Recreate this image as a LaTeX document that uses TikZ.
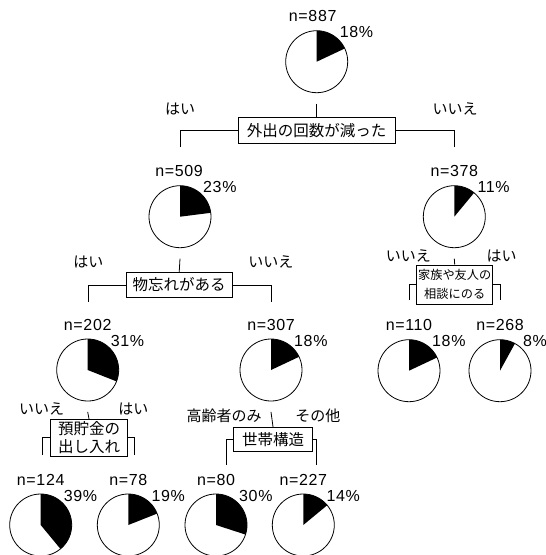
\documentclass[tikz,border=0pt]{standalone}
\usepackage{fontspec}
\setmainfont{Liberation Sans}
\newfontfamily\numfont[LetterSpace=4]{Liberation Sans}
\newfontfamily\cjk{Noto Sans CJK JP}
\newcommand\mypie[6][0]{%
  \node[piecirc] (#2) at (#3,#4) {};
  \fill (#2.center) -- ++(-90:31) arc[start angle=-90, delta angle=3.6*#6, radius=31] -- cycle;
  \node[nlab] (#2n) at ([xshift=#1pt,yshift=45.5pt]#2.center) {n=#5};
  \node[plab] (#2p) at ([xshift=23pt,yshift=29.5pt]#2.center) {#6\%};
}
\begin{document}
\begin{tikzpicture}[x=1pt,y=-1pt,
  piecirc/.style={circle,draw,minimum size=62pt,inner sep=0pt,line width=0.8pt},
  nlab/.style={font=\numfont\fontsize{16}{18}\selectfont, inner sep=0pt},
  plab/.style={font=\numfont\fontsize{16}{18}\selectfont, inner sep=0pt, anchor=west},
  ans/.style={font=\cjk\fontsize{15}{18}\selectfont, inner sep=0pt},
  qbox/.style={draw, line width=1pt, font=\cjk\fontsize{15.5}{17.7}\selectfont, inner sep=0pt, align=center},
  link/.style={line width=0.8pt}]
\useasboundingbox[fill=white] (0,0) rectangle (546,555);

% pies
\mypie[-4]{P0}{316.7}{61.7}{887}{18}
\mypie[-1]{P1}{180}{216.7}{509}{23}
\mypie{P2}{454.3}{216.7}{378}{11}
\mypie{P3}{87.7}{370}{202}{31}
\mypie{P4}{271}{370}{307}{18}
\mypie{P5}{409}{370.7}{110}{18}
\mypie{P6}{500}{370.7}{268}{8}
\mypie{P7}{40.7}{525}{124}{39}
\mypie{P8}{128.3}{525}{78}{19}
\mypie{P9}{216}{525}{80}{30}
\mypie{P10}{303.3}{525}{227}{14}

% question boxes
\node[qbox, minimum width=156.7pt, minimum height=26pt] (B0) at (316.7,130.3) {外出の回数が減った};
\node[qbox, minimum width=106.3pt, minimum height=24.6pt] (B1) at (179.2,285) {物忘れがある};
\node[qbox, minimum width=76pt, minimum height=39pt, font=\cjk\fontsize{12.2}{18.5}\selectfont] (B2) at (454.7,284.5) {家族や友人の\\相談にのる};
\node[qbox, minimum width=76.6pt, minimum height=36.7pt] (B3) at (89,437.7) {預貯金の\\出し入れ};
\node[qbox, minimum width=79.4pt, minimum height=24.4pt] (B4) at (273,439.5) {世帯構造};

% answer labels
\node[ans] (a0l) at (180,109) {はい};
\node[ans] (a0r) at (455,109) {いいえ};
\node[ans] (a1l) at (88.3,262) {はい};
\node[ans] (a1r) at (270.8,262) {いいえ};
\node[ans] (a2l) at (408.3,256) {いいえ};
\node[ans] (a2r) at (501.7,256) {はい};
\node[ans] (a3l) at (41.7,409) {いいえ};
\node[ans] (a3r) at (133.3,409) {はい};
\node[ans] (a4l) at (224.2,416) {高齢者のみ};
\node[ans] (a4r) at (317.8,416) {その他};

% branch ends
\coordinate (B0l) at (180,146.7);   \coordinate (B0r) at (454.3,146.7);
\coordinate (B1l) at (88.3,301.7);  \coordinate (B1r) at (271.7,301.7);
\coordinate (B2l) at (409.3,300);   \coordinate (B2r) at (500,300);
\coordinate (B3l) at (42.7,455);    \coordinate (B3r) at (134.3,455);
\coordinate (B4l) at (226.7,465);   \coordinate (B4r) at (316.7,465);

% connectors
\foreach \p/\b in {P0/B0,P1/B1,P2/B2,P3/B3,P4/B4}{
  \draw[link] ([yshift=-10.5pt]\p.south) -- (\b.north);
}
\foreach \b in {B0,B1,B2,B3,B4}{
  \draw[link] (\b.west) -| (\b l);
  \draw[link] (\b.east) -| (\b r);
}
\end{tikzpicture}
\end{document}
